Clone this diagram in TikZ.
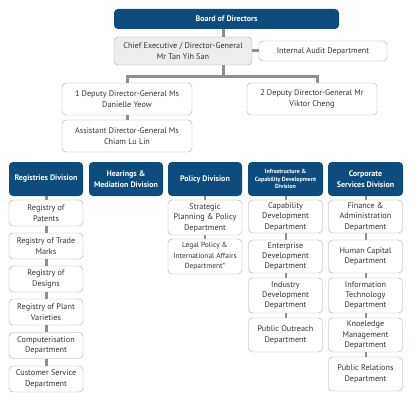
\documentclass[tikz,border=0pt]{standalone}
\usepackage{fontspec}
\setmainfont{PT Sans}
\usepackage{tikz}
\usetikzlibrary{calc}

\definecolor{ipblue}{HTML}{0E4C7E}
\definecolor{ipline}{HTML}{8E8E8E}
\definecolor{ipedge}{HTML}{9AAAB6}
\definecolor{iptext}{HTML}{333333}

\begin{document}
\begin{tikzpicture}[x=1pt,y=-1pt,
	unit/.style={draw=ipedge,fill=white,rounded corners=4pt,align=center,
		text=iptext,font=\fontsize{8.2}{10.4}\selectfont,inner sep=1pt},
	head/.style={fill=ipblue,rounded corners=4pt,align=center,text=white,
		font=\bfseries\fontsize{8}{10.4}\selectfont,inner sep=1pt},
	sub/.style={unit,minimum width=74pt},
	conn/.style={draw=ipline,line width=3pt},
	link/.style={draw=ipline,line width=2pt}]
	\useasboundingbox (0,0) rectangle (414,401);
	% top of the chart
	\node[head,minimum width=225pt,minimum height=20pt] (board) at (226.5,19) {Board of Directors};
	\node[unit,fill=gray!14,minimum width=138pt,minimum height=28pt] (ce) at (183,51)
		{Chief Executive / Director-General\\ Mr Tan Yih San};
	\node[unit,minimum width=128pt,minimum height=20pt] (ia) at (323,51) {Internal Audit Department};
	\node[unit,minimum width=130pt,minimum height=32pt] (dg1) at (127,99)
		{1 Deputy Director-General Ms\\ Danielle Yeow};
	\node[unit,minimum width=130pt,minimum height=32pt] (dg2) at (312,99)
		{2 Deputy Director-General Mr\\ Viktor Cheng};
	\node[unit,minimum width=130pt,minimum height=32pt] (adg) at (127,136)
		{Assistant Director-General Ms\\ Chiam Lu Lin};
	\coordinate (bar) at (223,77);
	\path[conn] (board.south -| bar) -- (ce.north -| bar)
		(ce.east) -- (ia.west)
		(ce.south -| bar) -- (bar)
		(dg1.north) |- (bar) -| ($(dg2.north)+(5,0)$)
		(dg1.south) -- (adg.north);
	% divisions
	\node[head,minimum width=74pt,minimum height=34pt] (reg) at (46,179) {Registries Division};
	\node[head,minimum width=74pt,minimum height=34pt] (hmd) at (126,179) {Hearings \&\\ Mediation Division};
	\node[head,minimum width=74pt,minimum height=34pt] (pol) at (205,179) {Policy Division};
	\node[head,minimum width=75pt,minimum height=34pt,font=\bfseries\fontsize{6}{7.6}\selectfont] (icd) at (285.5,179)
		{Infrastructure \&\\ Capability Development\\ Division};
	\node[head,minimum width=75pt,minimum height=34pt] (csd) at (365.5,179) {Corporate\\ Services Division};
	% registries
	\node[sub,minimum height=26pt] (r1) at (46,213) {Registry of\\ Patents};
	\node[sub,minimum height=26pt] (r2) at (46,246) {Registry of Trade\\ Marks};
	\node[sub,minimum height=26pt] (r3) at (46,279) {Registry of\\ Designs};
	\node[sub,minimum height=26pt] (r4) at (46,312) {Registry of Plant\\ Varieties};
	\node[sub,minimum height=26pt] (r5) at (46,345.5) {Computerisation\\ Department};
	\node[sub,minimum height=26pt] (r6) at (46,379) {Customer Service\\ Department};
	\path[conn] (reg) -- (r1) (r1) -- (r2) (r2) -- (r3) (r3) -- (r4) (r4) -- (r5) (r5) -- (r6);
	% policy
	\node[sub,minimum height=35pt] (p1) at (205,217.5) {Strategic\\ Planning \& Policy\\ Department};
	\node[sub,minimum height=35pt,font=\fontsize{7.4}{10.4}\selectfont] (p2) at (205,256.5)
		{Legal Policy \&\\ International Affairs\\ Department*};
	\path[link] (pol) -- (p1) (p1) -- (p2);
	% infrastructure
	\node[sub,minimum height=33pt] (i1) at (285.5,216.5) {Capability\\ Development\\ Department};
	\node[sub,minimum height=33pt] (i2) at (285.5,256.5) {Enterprise\\ Development\\ Department};
	\node[sub,minimum height=35pt] (i3) at (285.5,295.5) {Industry\\ Development\\ Department};
	\node[sub,minimum height=34pt] (i4) at (285.5,335) {Public Outreach\\ Department};
	\path[link] (icd) -- (i1) (i1) -- (i2) (i2) -- (i3) (i3) -- (i4);
	% corporate services
	\node[sub,minimum height=33pt] (c1) at (365.5,216.5) {Finance \&\\ Administration\\ Department};
	\node[sub,minimum height=33pt] (c2) at (365.5,256.5) {Human Capital\\ Department};
	\node[sub,minimum height=35pt] (c3) at (365.5,295.5) {Information\\ Technology\\ Department};
	\node[sub,minimum height=34pt] (c4) at (365.5,335) {Knoeledge\\ Management\\ Department};
	\node[sub,minimum height=34pt] (c5) at (365.5,374) {Public Relations\\ Department};
	\path[link] (csd) -- (c1) (c1) -- (c2) (c2) -- (c3) (c3) -- (c4) (c4) -- (c5);
\end{tikzpicture}
\end{document}
